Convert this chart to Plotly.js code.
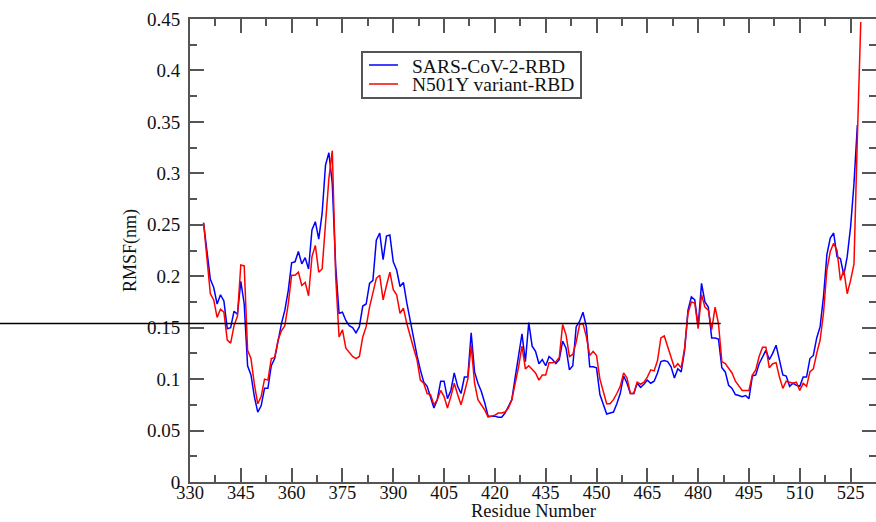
<!DOCTYPE html>
<html>
<head>
<meta charset="utf-8">
<script src="https://cdn.plot.ly/plotly-3.0.1.min.js"></script>
<style>
html,body{margin:0;padding:0;background:#fff;}
#chart{width:876px;height:522px;}
</style>
</head>
<body>
<div id="chart"></div>
<script>
// Residue numbers (x values)
var residuesWT = [334,335,336,337,338,339,340,341,342,343,344,345,346,347,348,349,350,351,352,353,354,355,356,357,358,359,360,361,362,363,364,365,366,367,368,369,370,371,372,373,374,375,376,377,378,379,380,381,382,383,384,385,386,387,388,389,390,391,392,393,394,395,396,397,398,399,400,401,402,403,404,405,406,407,408,409,410,411,412,413,414,415,416,417,418,419,420,421,422,423,424,425,426,427,428,429,430,431,432,433,434,435,436,437,438,439,440,441,442,443,444,445,446,447,448,449,450,451,452,453,454,455,456,457,458,459,460,461,462,463,464,465,466,467,468,469,470,471,472,473,474,475,476,477,478,479,480,481,482,483,484,485,486,487,488,489,490,491,492,493,494,495,496,497,498,499,500,501,502,503,504,505,506,507,508,509,510,511,512,513,514,515,516,517,518,519,520,521,522,523,524,525,526,527];
var residuesN501Y = [334,335,336,337,338,339,340,341,342,343,344,345,346,347,348,349,350,351,352,353,354,355,356,357,358,359,360,361,362,363,364,365,366,367,368,369,370,371,372,373,374,375,376,377,378,379,380,381,382,383,384,385,386,387,388,389,390,391,392,393,394,395,396,397,398,399,400,401,402,403,404,405,406,407,408,409,410,411,412,413,414,415,416,417,418,419,420,421,422,423,424,425,426,427,428,429,430,431,432,433,434,435,436,437,438,439,440,441,442,443,444,445,446,447,448,449,450,451,452,453,454,455,456,457,458,459,460,461,462,463,464,465,466,467,468,469,470,471,472,473,474,475,476,477,478,479,480,481,482,483,484,485,486,487,488,489,490,491,492,493,494,495,496,497,498,499,500,501,502,503,504,505,506,507,508,509,510,511,512,513,514,515,516,517,518,519,520,521,522,523,524,525,526,527,528];

// RMSF (nm) values
var rmsfWT = [
0.252,0.225,0.197,0.189,0.173,0.182,0.176,0.149,0.150,0.166,0.163,0.195,0.173,0.113,0.104,0.083,0.068,0.074,0.091,0.091,
0.113,0.120,0.138,0.154,0.167,0.186,0.213,0.214,0.224,0.212,0.218,0.207,0.245,0.253,0.236,0.261,0.308,0.320,0.290,0.210,
0.164,0.165,0.157,0.152,0.150,0.145,0.151,0.171,0.173,0.193,0.196,0.235,0.242,0.216,0.239,0.240,0.214,0.206,0.190,0.194,
0.174,0.156,0.138,0.123,0.109,0.097,0.093,0.083,0.072,0.080,0.098,0.098,0.081,0.089,0.106,0.093,0.086,0.102,0.102,0.145,
0.107,0.096,0.088,0.077,0.064,0.064,0.064,0.063,0.063,0.067,0.073,0.080,0.102,0.122,0.144,0.117,0.155,0.132,0.127,0.115,
0.119,0.113,0.122,0.119,0.115,0.119,0.137,0.130,0.109,0.113,0.151,0.156,0.165,0.151,0.112,0.112,0.111,0.085,0.076,0.066,
0.067,0.068,0.076,0.086,0.103,0.096,0.086,0.086,0.096,0.092,0.095,0.099,0.096,0.098,0.106,0.117,0.118,0.117,0.112,0.101,
0.110,0.107,0.128,0.167,0.180,0.177,0.151,0.193,0.175,0.170,0.140,0.140,0.139,0.111,0.107,0.094,0.091,0.085,0.084,0.083,
0.084,0.081,0.103,0.104,0.115,0.122,0.128,0.119,0.125,0.133,0.119,0.104,0.103,0.093,0.096,0.094,0.093,0.102,0.102,0.120,
0.123,0.140,0.151,0.180,0.221,0.237,0.242,0.219,0.217,0.201,0.219,0.248,0.290,0.347];

var rmsfN501Y = [
0.252,0.215,0.183,0.177,0.160,0.168,0.165,0.138,0.135,0.152,0.161,0.211,0.210,0.128,0.120,0.095,0.076,0.083,0.100,0.099,
0.120,0.121,0.138,0.147,0.152,0.173,0.201,0.201,0.204,0.191,0.194,0.181,0.219,0.230,0.204,0.207,0.254,0.295,0.322,0.200,
0.141,0.148,0.130,0.126,0.122,0.120,0.122,0.141,0.151,0.170,0.183,0.198,0.201,0.177,0.191,0.204,0.187,0.182,0.164,0.169,
0.154,0.141,0.130,0.119,0.099,0.096,0.086,0.085,0.075,0.080,0.089,0.083,0.072,0.083,0.096,0.085,0.075,0.087,0.100,0.133,
0.096,0.080,0.075,0.070,0.063,0.064,0.065,0.067,0.067,0.068,0.072,0.080,0.096,0.112,0.132,0.110,0.113,0.109,0.106,0.099,
0.104,0.104,0.116,0.116,0.117,0.121,0.153,0.143,0.122,0.124,0.136,0.153,0.154,0.141,0.123,0.127,0.123,0.100,0.088,0.076,
0.076,0.080,0.086,0.093,0.106,0.101,0.086,0.086,0.097,0.095,0.097,0.102,0.109,0.108,0.118,0.140,0.142,0.131,0.120,0.111,
0.115,0.111,0.130,0.164,0.175,0.174,0.149,0.182,0.170,0.167,0.148,0.170,0.154,0.117,0.115,0.110,0.106,0.098,0.094,0.089,
0.089,0.089,0.104,0.109,0.122,0.131,0.131,0.111,0.115,0.116,0.102,0.091,0.098,0.097,0.096,0.097,0.089,0.096,0.093,0.107,
0.110,0.125,0.138,0.164,0.206,0.224,0.232,0.225,0.196,0.206,0.183,0.196,0.212,0.335,0.447];

var seriesNames = ["SARS-CoV-2-RBD", "N501Y variant-RBD"];
var seriesColors = ["#0000ff", "#ff0000"];
var xTickValues = [330,345,360,375,390,405,420,435,450,465,480,495,510,525];
var referenceLineValue = 0.154;
var xAxisTitle = "Residue Number";
var yAxisTitle = "RMSF(nm)";

var xRange = [330, 532.5];
var yRange = [0, 0.45];
var serif = "Liberation Serif, Times New Roman, serif";
var axisGray = "#555555";

var traces = [
  {x: residuesWT, y: rmsfWT, name: seriesNames[0], type: "scatter", mode: "lines",
   line: {color: seriesColors[0], width: 1.5}, showlegend: false},
  {x: residuesN501Y, y: rmsfN501Y, name: seriesNames[1], type: "scatter", mode: "lines",
   line: {color: seriesColors[1], width: 1.5}, showlegend: false}
];

// plot-area geometry in pixels, used to position legend box in paper units
var plotL = 190, plotW = 686, plotT = 19, plotH = 463;
function px(xp) { return (xp - plotL) / plotW; }
function py(yp) { return (plotT + plotH - yp) / plotH; }

var legendRows = [65, 84];
var shapes = [
  {type: "line", xref: "paper", yref: "paper",
   x0: px(0), x1: px(720.7),
   y0: (referenceLineValue - yRange[0]) / (yRange[1] - yRange[0]),
   y1: (referenceLineValue - yRange[0]) / (yRange[1] - yRange[0]),
   line: {color: "#000000", width: 1.5}, layer: "above"},
  {type: "rect", xref: "paper", yref: "paper",
   x0: px(362), x1: px(581), y0: py(98), y1: py(52),
   line: {color: axisGray, width: 2}, fillcolor: "#ffffff", layer: "above"}
];
var annotations = [
  {xref: "paper", yref: "paper", x: 0.5, y: py(522), xanchor: "center", yanchor: "bottom",
   text: xAxisTitle, showarrow: false, borderpad: 0,
   font: {family: serif, size: 18.5, color: "#111"}}
];
for (var i = 0; i < seriesNames.length; i++) {
  shapes.push({type: "line", xref: "paper", yref: "paper",
    x0: px(369), x1: px(398), y0: py(legendRows[i]), y1: py(legendRows[i]),
    line: {color: seriesColors[i], width: 1.5}, layer: "above"});
  annotations.push({xref: "paper", yref: "paper", x: px(410), y: py(legendRows[i] + 1),
    xanchor: "left", yanchor: "middle", text: seriesNames[i], showarrow: false,
    font: {family: serif, size: 19.5, color: "#111"}});
}

var layout = {
  width: 876, height: 522,
  margin: {l: plotL, r: 0, t: plotT, b: 522 - plotT - plotH},
  paper_bgcolor: "#ffffff", plot_bgcolor: "#ffffff",
  font: {family: serif, size: 19, color: "#111"},
  showlegend: false,
  xaxis: {
    range: xRange, autorange: false,
    tickmode: "array", tickvals: xTickValues,
    ticks: "inside", ticklen: 14, tickwidth: 2, tickcolor: axisGray,
    minor: {dtick: 7.5, tick0: 330, ticks: "inside", ticklen: 7, tickwidth: 2, tickcolor: axisGray, showgrid: false},
    showline: true, linecolor: axisGray, linewidth: 2, mirror: "ticks",
    showgrid: false, zeroline: false,
    ticklabelstandoff: -7,
    tickfont: {family: serif, size: 18.5, color: "#111"}
  },
  yaxis: {
    range: yRange, autorange: false,
    tick0: 0, dtick: 0.05,
    ticks: "inside", ticklen: 14, tickwidth: 2, tickcolor: axisGray,
    minor: {dtick: 0.025, tick0: 0, ticks: "inside", ticklen: 7, tickwidth: 2, tickcolor: axisGray, showgrid: false},
    showline: true, linecolor: axisGray, linewidth: 2, mirror: "ticks",
    showgrid: false, zeroline: false,
    tickfont: {family: serif, size: 19, color: "#111"},
    ticklabelstandoff: 4,
    title: {text: yAxisTitle, font: {family: serif, size: 18, color: "#111"}, standoff: 6}
  },
  shapes: shapes,
  annotations: annotations
};

Plotly.newPlot("chart", traces, layout, {displayModeBar: false, staticPlot: true});
</script>
</body>
</html>
